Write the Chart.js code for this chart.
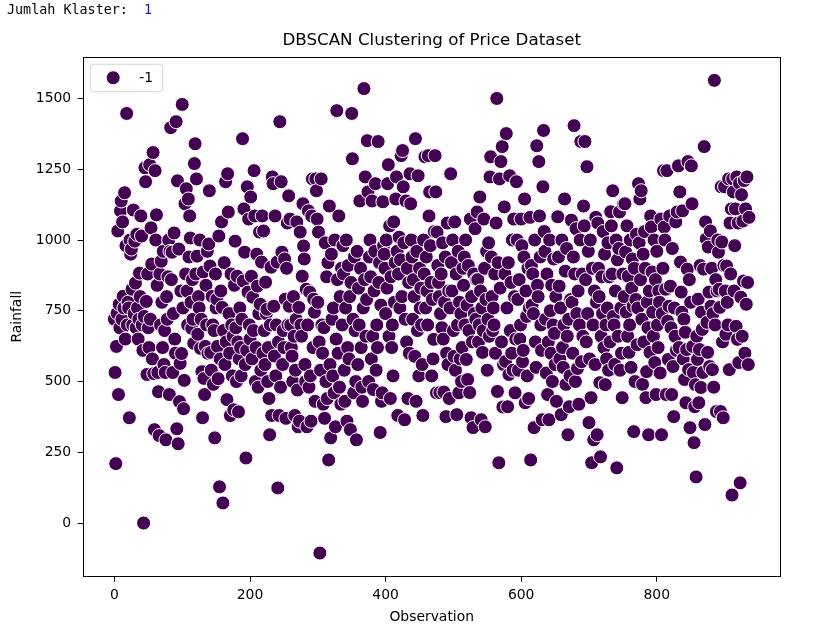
<!DOCTYPE html>
<html>
<head>
<meta charset="utf-8">
<script src="https://cdn.jsdelivr.net/npm/chart.js@4.4.1/dist/chart.umd.min.js"></script>
<style>
html, body { margin: 0; padding: 0; background: #fff; }
#wrap { position: relative; width: 822px; height: 632px; }
#chart { position: absolute; left: 0; top: 0; }
#out { position: absolute; left: 7px; top: 1px; font: 13.4px "DejaVu Sans Mono", monospace; line-height: 18px; color: #000; white-space: pre; }
#out .num { color: #1a1aa6; }
</style>
</head>
<body>
<div id="wrap">
  <canvas id="chart" width="822" height="632"></canvas>
  <div id="out">Jumlah Klaster:  <span class="num">1</span></div>
</div>
<script>
// ========== DATA ==========
const chartTitle = 'DBSCAN Clustering of Price Dataset';
const xLabel = 'Observation';
const yLabel = 'Rainfall';
const clusterLabel = '-1';
const xTicks = [0, 200, 400, 600, 800];
const yTicks = [0, 250, 500, 750, 1000, 1250, 1500];

// rainfall per observation in order (obs 0..936)
const rainfallSeg1 = [
  720, 532, 210, 624, 741, 1032, 454, 773, 690, 1103, 1138, 720, 1064, 801, 760, 1167, 650, 980, 1447, 700,
  780, 760, 372, 1000, 950, 968, 826, 700, 1106, 740, 996, 848, 690, 1020, 760, 650, 720, 883, 800, 1085,
  1014, 700, 610, 0, 730, 1255, 1206, 783, 525, 880, 690, 620, 1266, 720, 1043, 915, 580, 1309, 528, 330,
  1245, 1000, 1089, 840, 532, 464, 309, 880, 700, 925, 780, 620, 960, 560, 680, 532, 294, 800, 720, 870,
  1000, 454, 960, 1397, 860, 957, 532, 740, 1025, 650, 600, 1418, 333, 1209, 280, 968, 429, 564, 820,
  599, 1479, 760, 404, 504, 1128, 880, 1181, 820, 700, 1145, 940, 1085, 1007, 780, 688, 860, 720, 635, 1270,
  1340, 880, 1216, 943, 667, 800, 760, 1000, 617, 720, 535, 372, 887, 511, 454, 624, 840, 700, 960, 600,
  986, 1174, 908, 603, 540, 801, 700, 490, 680, 301, 880, 760, 791, 624, 510, 1014, 128, 580, 820, 1064,
  762, 71, 680, 920, 560, 1206, 640, 436, 1234, 1099, 740, 600, 380, 880, 700, 520, 660, 400, 840, 996,
  690, 500, 872, 640, 393, 580, 760, 620, 520, 720, 1358, 855, 1110, 957, 560, 230, 610, 1188, 816
];
const rainfallSeg2 = [
  1074, 700, 650, 1152, 872, 580, 798, 680, 1245, 1085, 500, 620, 950, 837, 480, 740, 1028, 773, 540, 922,
  1085, 600, 1032, 680, 560, 851, 740, 755, 500, 620, 440, 312, 700, 904, 380, 1223, 1199, 766, 590, 1085,
  520, 700, 922, 124, 640, 380, 1418, 480, 1206, 957, 560, 680, 620, 933, 791, 370, 900, 1060, 700, 1156,
  766, 1074, 700, 620, 590, 500, 800, 660, 380, 540, 720, 1064, 470, 340, 762, 360, 1028, 700, 660, 872,
  1128, 979, 933, 560, 500, 826, 340, 700, 1103, 480, 816, 520, 360, 1085, 1216, 620, 791, 745, 430,
  1216, 1174, 1074, 780, 1028, 640, -106, 540, 1216, 700, 600, 420, 690, 370, 990, 500, 870, 440, 920, 223,
  1120, 560, 301, 950, 720, 520, 760, 460, 1000, 340, 650, 1457, 860, 600, 1085, 480, 800, 420, 900, 700,
  980, 880, 540, 430, 760, 1000, 360, 620, 910, 580, 800, 330, 850, 1447, 1287, 720, 460, 940, 680, 500,
  294, 960, 560, 830, 700, 1138, 900, 620, 480, 430, 760, 1535, 860, 1223, 660, 790, 1351, 1170, 500, 940,
  1000, 870, 580, 1138, 660, 472, 820, 960, 1199, 540, 700, 620, 1348, 850, 920, 320, 770, 430, 460
];
const rainfallSeg3 = [
  1135, 980, 950, 900, 740, 1000, 830, 1199, 1266, 660, 1050, 440, 870, 620, 700, 520, 1064, 780, 920, 1145,
  1223, 960, 380, 880, 1010, 760, 930, 1298, 800, 1316, 1188, 990, 365, 720, 1138, 640, 900, 440, 850, 600,
  1234, 1128, 1000, 940, 720, 860, 800, 589, 1358, 430, 960, 680, 1227, 520, 900, 760, 830, 700, 560, 380,
  1000, 880, 1294, 760, 940, 820, 700, 1298, 1085, 1170, 980, 850, 520, 790, 580, 649, 1030, 1298, 1170, 460,
  1028, 910, 850, 800, 461, 740, 880, 690, 990, 650, 463, 780, 940, 376, 600, 1060, 560, 820, 440,
  760, 1234, 920, 820, 1000, 680, 589, 1064, 540, 880, 383, 700, 960, 460, 780, 580, 740, 500, 620, 900,
  840, 940, 700, 1000, 578, 770, 507, 910, 680, 461, 1074, 372, 800, 640, 337, 880, 740, 1040, 720, 860,
  1099, 860, 640, 700, 1152, 820, 365, 760, 603, 680, 1074, 900, 340, 790, 960, 540, 720, 990, 660, 1223,
  1294, 940, 800, 680, 760, 700, 880, 600, 1060, 1500, 465, 920, 213, 1216, 830, 1277, 640, 1330, 410, 560,
  1117, 880, 571, 1376, 760, 411, 920, 525, 1227, 680, 850, 600, 1000, 540, 1074, 800, 460, 650, 1206
];
const rainfallSeg4 = [
  1000, 790, 540, 860, 650, 700, 1074, 980, 570, 610, 940, 1145, 425, 820, 730, 520, 900, 440, 760, 1080,
  223, 910, 770, 880, 740, 337, 1000, 640, 550, 1333, 840, 800, 1277, 1085, 940, 700, 610, 365, 1188, 1387,
  1030, 960, 720, 530, 880, 454, 640, 365, 1000, 750, 600, 840, 500, 700, 933, 670, 560, 800, 430, 1082,
  1082, 940, 837, 580, 760, 383, 1000, 620, 550, 700, 1145, 890, 490, 970, 660, 312, 720, 411, 520, 790,
  1070, 780, 600, 940, 1404, 880, 500, 1040, 740, 546, 820, 420, 700, 1000, 1348, 570, 880, 660, 1120,
  1050, 1348, 860, 640, 1259, 740, 960, 355, 580, 1000, 443, 213, 900, 700, 294, 820, 560, 1080, 780, 312,
  1060, 900, 800, 496, 234, 660, 870, 740, 1030, 620, 950, 489, 700, 580, 760, 990, 540, 870, 640, 1100,
  1050, 880, 1174, 730, 700, 560, 820, 1000, 195, 930, 660, 970, 1099, 540, 760, 600, 443, 880, 1128, 800,
  1128, 958, 745, 1050, 660, 872, 603, 700, 1000, 550, 830, 933, 766, 323, 900, 500, 790, 1020, 630, 760,
  1199, 990, 1145, 860, 1174, 720, 490, 950, 640, 1030, 900, 443, 535, 780, 690, 312, 820, 603, 1085
];
const rainfallSeg5 = [
  1046, 887, 745, 660, 1000, 567, 860, 454, 960, 700, 620, 820, 780, 530, 1074, 312, 740, 900, 1245, 1046,
  1000, 826, 454, 1245, 713, 578, 766, 1085, 837, 690, 454, 970, 553, 376, 760, 660, 1064, 610, 1099, 1262,
  1262, 620, 1170, 922, 816, 745, 1103, 580, 720, 507, 674, 425, 613, 897, 1277, 542, 860, 337, 780, 1262,
  1128, 624, 532, 284, 411, 489, 163, 660, 578, 791, 425, 613, 910, 479, 745, 684, 532, 897, 1330, 348,
  1064, 1004, 709, 603, 975, 816, 553, 1032, 766, 900, 542, 740, 480, 1564, 700, 860, 394, 820, 1000,
  957, 826, 762, 394, 1188, 993, 640, 372, 910, 1188, 820, 667, 908, 780, 700, 1216, 542, 1060, 880, 1110,
  99, 1216, 1170, 820, 980, 1110, 695, 1223, 649, 1060, 567, 1200, 142, 798, 1160, 660, 1067, 855, 1210, 600,
  1110, 773, 1223, 850, 560, 1080
];

const rainfall = [...rainfallSeg1, ...rainfallSeg2, ...rainfallSeg3, ...rainfallSeg4, ...rainfallSeg5];

// ========== STYLE ==========
const FONT = 'DejaVu Sans';
const CLUSTER_COLOR = '#440154';
Chart.defaults.font.family = FONT;
Chart.defaults.color = '#000';

// x/y limits with matplotlib-like 5% margins
const n = rainfall.length;
const xSpan = n - 1;
const yMin = Math.min(...rainfall), yMax = Math.max(...rainfall);
const ySpan = yMax - yMin;

// ========== PLUGINS ==========
// full box around the plot (all four spines)
const framePlugin = {
    id: 'frame',
    afterDatasetsDraw(chart) {
        const { ctx, chartArea: a } = chart;
        ctx.save();
        ctx.strokeStyle = '#000';
        ctx.lineWidth = 1;
        ctx.strokeRect(Math.round(a.left) + 0.5, Math.round(a.top) + 0.5,
            Math.round(a.right - a.left) - 1, Math.round(a.bottom - a.top) - 1);
        ctx.restore();
    }
};

// matplotlib style legend in the upper left corner
const legendPlugin = {
    id: 'mplLegend',
    afterDraw(chart) {
        const { ctx, chartArea: a } = chart;
        const ds = chart.data.datasets[0];
        const x = a.left + 7.5, y = a.top + 7.5, w = 72.5, h = 27.5;
        ctx.save();
        ctx.beginPath();
        ctx.roundRect(x, y, w, h, 3);
        ctx.fillStyle = 'rgba(255,255,255,0.8)';
        ctx.fill();
        ctx.strokeStyle = '#d6d6d6';
        ctx.lineWidth = 1;
        ctx.stroke();

        ctx.beginPath();
        ctx.arc(x + 23, y + 13.5, 7, 0, Math.PI * 2);
        ctx.fillStyle = ds.backgroundColor;
        ctx.fill();
        ctx.strokeStyle = '#fff';
        ctx.stroke();

        ctx.fillStyle = '#000';
        ctx.font = `13.9px "${FONT}"`;
        ctx.textBaseline = 'middle';
        ctx.fillText(ds.label, x + 49, y + 14);
        ctx.restore();
    }
};

// ========== CHART ==========
new Chart(document.getElementById('chart'), {
    type: 'scatter',
    data: {
        datasets: [{
            label: clusterLabel,
            data: rainfall.map((v, i) => ({ x: i, y: v })),
            backgroundColor: CLUSTER_COLOR,
            borderColor: '#fff',
            borderWidth: 1,
            pointRadius: 7,
            pointHoverRadius: 7
        }]
    },
    options: {
        responsive: false,
        animation: false,
        devicePixelRatio: 1,
        layout: { padding: { top: 20, right: 41.3, bottom: 5.3, left: 0 } },
        plugins: {
            legend: { display: false },
            tooltip: { enabled: false },
            title: {
                display: true,
                text: chartTitle,
                fullSize: false,
                color: '#000',
                font: { family: FONT, size: 16.7, weight: 'normal' },
                padding: { top: 10.7, bottom: 6 }
            }
        },
        scales: {
            x: {
                type: 'linear',
                min: -0.05 * xSpan,
                max: xSpan * 1.05,
                afterBuildTicks: s => { s.ticks = xTicks.map(v => ({ value: v })); },
                afterFit: s => { s.height = 50; },
                grid: { drawOnChartArea: false, drawTicks: true, tickLength: 5, color: '#000' },
                border: { display: false },
                ticks: { color: '#000', font: { size: 13.9 }, padding: 5, maxRotation: 0, autoSkip: false, callback: v => String(v) },
                title: { display: true, text: xLabel, color: '#000', font: { size: 13.9 }, padding: { top: 0, bottom: 1.4 } }
            },
            y: {
                type: 'linear',
                min: yMin - 0.05 * ySpan,
                max: yMax + 0.05 * ySpan,
                afterBuildTicks: s => { s.ticks = yTicks.map(v => ({ value: v })); },
                afterFit: s => { s.width = 82.7; },
                grid: { drawOnChartArea: false, drawTicks: true, tickLength: 5, color: '#000' },
                border: { display: false },
                ticks: { color: '#000', font: { size: 13.9 }, padding: 6.5, autoSkip: false, callback: v => String(v) },
                title: { display: true, text: yLabel, color: '#000', font: { size: 13.9 }, padding: { top: 9, bottom: 0 } }
            }
        }
    },
    plugins: [framePlugin, legendPlugin]
});
</script>
</body>
</html>
